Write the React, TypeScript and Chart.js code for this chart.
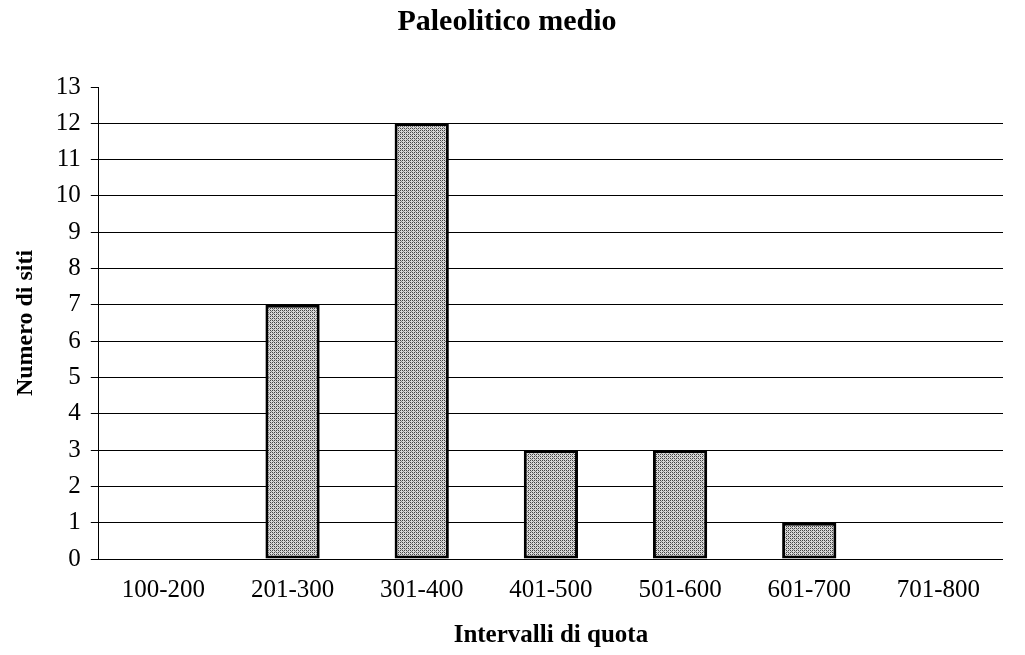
import React, { useEffect, useRef } from "react";
import { Chart, registerables } from "chart.js";
Chart.register(...registerables);

const categories = ["100-200", "201-300", "301-400", "401-500", "501-600", "601-700", "701-800"];
const siteCounts = [0, 7, 12, 3, 3, 1, 0];
const yTicks = [0, 1, 2, 3, 4, 5, 6, 7, 8, 9, 10, 11, 12, 13];

function makePattern(): CanvasPattern | string {
  const c = document.createElement("canvas");
  c.width = 4;
  c.height = 4;
  const g = c.getContext("2d");
  if (!g) return "#a8a8a8";
  g.fillStyle = "#d8d8d8";
  g.fillRect(0, 0, 4, 4);
  g.fillStyle = "#444444";
  g.fillRect(0, 0, 1, 1);
  g.fillRect(2, 2, 1, 1);
  g.fillRect(2, 0, 1, 1);
  g.fillRect(0, 2, 1, 1);
  g.fillStyle = "#8a8a8a";
  g.fillRect(1, 1, 1, 1);
  g.fillRect(3, 3, 1, 1);
  const p = g.createPattern(c, "repeat");
  return p || "#a8a8a8";
}

export default function App() {
  const ref = useRef<HTMLCanvasElement>(null);
  useEffect(() => {
    if (!ref.current) return;
    const serif = "'Liberation Serif', 'Times New Roman', serif";
    const chart = new Chart(ref.current, {
      type: "bar",
      data: {
        labels: categories,
        datasets: [
          {
            data: siteCounts,
            backgroundColor: makePattern() as any,
            borderColor: "#000000",
            borderWidth: 3,
            borderSkipped: false,
            categoryPercentage: 1,
            barPercentage: 0.42,
          },
        ],
      },
      options: {
        animation: false,
        responsive: false,
        maintainAspectRatio: false,
        layout: { padding: { top: 0, right: 22, bottom: 0, left: 11 } },
        plugins: {
          legend: { display: false },
          tooltip: { enabled: false },
          title: {
            display: true,
            text: "Paleolitico medio",
            color: "#000",
            font: { family: serif, size: 30, weight: "bold" },
            padding: { top: 4, bottom: 47 },
          },
        },
        scales: {
          x: {
            grid: { display: false, drawTicks: false },
            border: { display: false },
            ticks: { color: "#000", font: { family: serif, size: 25 }, padding: 16, maxRotation: 0 },
            title: {
              display: true,
              text: "Intervalli di quota",
              color: "#000",
              font: { family: serif, size: 25, weight: "bold" },
              padding: { top: 0, bottom: 4 },
            },
          },
          y: {
            min: 0,
            max: 13,
            afterBuildTicks: (axis: any) => {
              axis.ticks = yTicks.map((v) => ({ value: v }));
            },
            grid: {
              color: (ctx: any) => (ctx.tick && ctx.tick.value === 13 ? "rgba(0,0,0,0)" : "#000"),
              lineWidth: 1,
              drawTicks: true,
              tickLength: 8,
              tickColor: "#000",
            },
            border: { display: true, color: "#000", width: 1 },
            ticks: { color: "#000", font: { family: serif, size: 25 }, padding: 10 },
            title: {
              display: true,
              text: "Numero di siti",
              color: "#000",
              font: { family: serif, size: 24, weight: "bold" },
              padding: { top: 0, bottom: 6 },
            },
          },
        },
      },
    });
    return () => chart.destroy();
  }, []);
  return (
    <div style={{ position: "fixed", left: 0, top: 0, width: 1025, height: 655, background: "#fff" }}>
      <canvas ref={ref} width={1025} height={655} style={{ display: "block" }} />
    </div>
  );
}
